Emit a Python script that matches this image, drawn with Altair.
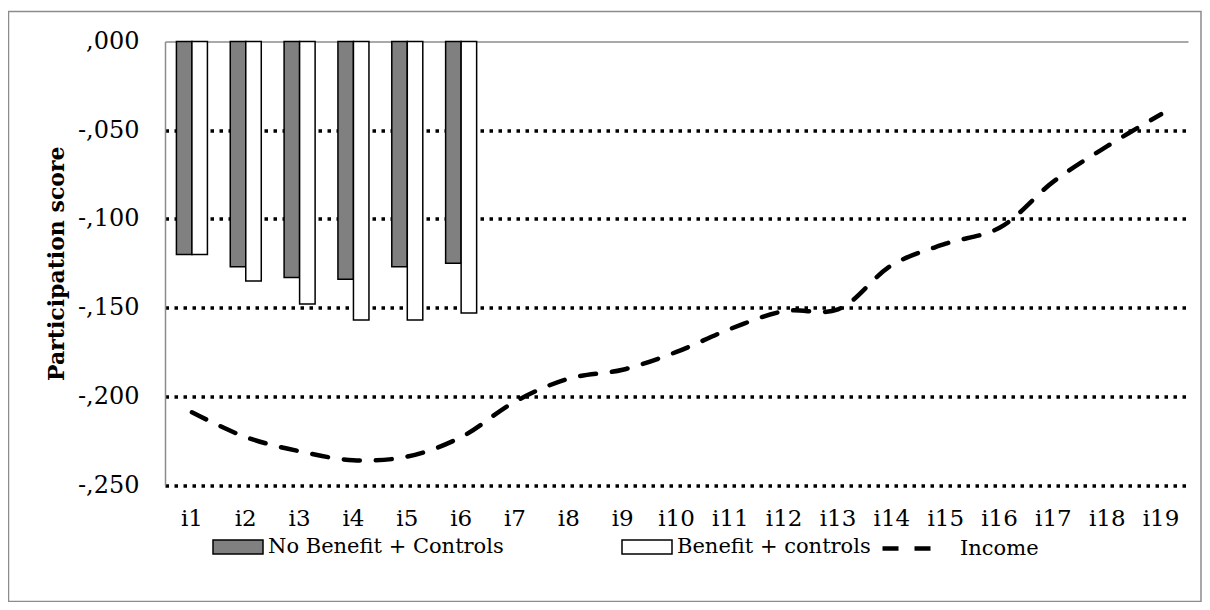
import altair as alt
import pandas as pd

categories = ["i1", "i2", "i3", "i4", "i5", "i6", "i7", "i8", "i9", "i10",
              "i11", "i12", "i13", "i14", "i15", "i16", "i17", "i18", "i19"]
bar_items = ["i1", "i2", "i3", "i4", "i5", "i6"]
series_names = ["No Benefit + Controls", "Benefit + controls"]
no_benefit = [-0.120, -0.127, -0.133, -0.134, -0.127, -0.125]
benefit = [-0.120, -0.135, -0.148, -0.157, -0.157, -0.153]
income_name = "Income"
income = [-0.209, -0.223, -0.231, -0.236, -0.234, -0.223, -0.203, -0.190, -0.185,
          -0.175, -0.162, -0.152, -0.151, -0.126, -0.114, -0.105, -0.079, -0.059, -0.041]
y_ticks = [0, -0.05, -0.10, -0.15, -0.20, -0.25]

FONT = "DejaVu Serif"

bars_df = pd.DataFrame(
    [{"item": it, "series": series_names[0], "value": v} for it, v in zip(bar_items, no_benefit)]
    + [{"item": it, "series": series_names[1], "value": v} for it, v in zip(bar_items, benefit)]
)
line_df = pd.DataFrame({"item": categories, "series": income_name, "value": income})
frame_df = pd.DataFrame({"k": [0]})

xscale = alt.Scale(domain=categories, paddingInner=0.424, paddingOuter=0.212)
yscale = alt.Scale(domain=[-0.25, 0], nice=False, zero=False)

xaxis = alt.Axis(domain=False, ticks=False, grid=False, labelAngle=0, labelFont=FONT,
                 labelFontSize=23, labelColor="black", labelPadding=22)
yaxis = alt.Axis(
    values=y_ticks,
    labelExpr="(datum.value < 0 ? '-' : '') + ',' + format(round(abs(datum.value)*1000), '03d')",
    grid=True,
    gridColor={"condition": {"test": "datum.value === 0", "value": "#8c8c8c"}, "value": "black"},
    gridDash={"condition": {"test": "datum.value === 0", "value": []}, "value": [3.5, 5.5]},
    gridWidth={"condition": {"test": "datum.value === 0", "value": 1.5}, "value": 3.3},
    domainColor="#8c8c8c", domainWidth=1.5, ticks=False,
    labelFont=FONT, labelFontSize=24, labelColor="black", labelPadding=26,
    titleFont=FONT, titleFontSize=22, titleFontWeight="bold", titleColor="black", titlePadding=9,
)

frame = alt.Chart(frame_df).mark_rect(fill=None, stroke="#8c8c8c", strokeWidth=1.5).encode(
    x=alt.value(-156.5), x2=alt.value(1036), y=alt.value(-30), y2=alt.value(560)
)

bars = alt.Chart(bars_df).mark_bar(stroke="black", strokeWidth=1.5).encode(
    x=alt.X("item:N", scale=xscale, sort=categories, axis=xaxis, title=None),
    xOffset=alt.XOffset("series:N", sort=series_names,
                        scale=alt.Scale(domain=series_names, paddingInner=0, paddingOuter=0)),
    y=alt.Y("value:Q", scale=yscale, axis=yaxis, title="Participation score"),
    fill=alt.Fill("series:N", sort=series_names,
                  scale=alt.Scale(domain=series_names, range=["#808080", "#ffffff"]),
                  legend=alt.Legend(orient="none", legendX=47, legendY=479.5, direction="horizontal",
                                    title=None, symbolType="M-1,-0.28H1V0.28H-1Z", symbolSize=2500,
                                    symbolStrokeColor="black", symbolStrokeWidth=1.5,
                                    labelFont=FONT, labelFontSize=21, labelColor="black",
                                    labelOffset=4, labelLimit=500, columnPadding=115)),
)

line = alt.Chart(line_df).mark_line(color="black", strokeWidth=4.5, strokeCap="round",
                                    interpolate="catmull-rom").encode(
    x=alt.X("item:N", sort=categories, bandPosition=0.5),
    y=alt.Y("value:Q"),
    strokeDash=alt.StrokeDash("series:N", scale=alt.Scale(domain=[income_name], range=[[16, 16]]),
                              legend=alt.Legend(orient="none", legendX=715, legendY=474.5,
                                                title=None, symbolType="stroke", symbolSize=3600,
                                                symbolStrokeColor="black", symbolStrokeWidth=4.5,
                                                labelFont=FONT, labelFontSize=21, labelColor="black",
                                                labelOffset=15, labelLimit=300)),
)

chart = alt.layer(frame, bars, line).properties(
    width=1023, height=443.5,
    autosize=alt.AutoSizeParams(type="none"),
    padding={"left": 157, "top": 33.5, "right": 14, "bottom": 117},
    background="white",
).configure_view(stroke=None)

chart.save("out.html", embed_options={"renderer": "svg", "actions": False})
